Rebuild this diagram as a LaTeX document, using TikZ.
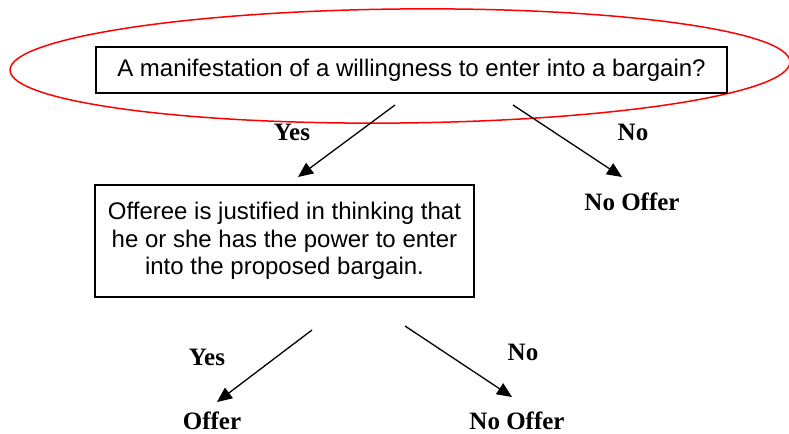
\documentclass[tikz,border=0pt]{standalone}
\usepackage{fontspec}
\setmainfont{Liberation Serif}
\setsansfont{Liberation Sans}
\usetikzlibrary{positioning,calc,arrows.meta,shapes.geometric}

\begin{document}
\begin{tikzpicture}[x=0.5pt,y=-0.5pt,>={Triangle[length=7.5pt,width=6.5pt]},
		question/.style={draw,line width=0.8pt,align=center,inner sep=0pt,
			font=\sffamily\fontsize{12}{13.75}\selectfont},
		answer/.style={inner sep=1pt,font=\bfseries\fontsize{12.5}{15}\selectfont},
	]
		\useasboundingbox (0,0) rectangle (789,434);

		\node[draw=red,line width=0.75pt,ellipse,minimum width=390pt,minimum height=57pt,rotate=0.6] (ring) at (400,66) {};

		\node[question,minimum width=315.5pt,minimum height=23pt] (q1) at (411.5,70)
			{A manifestation of a willingness to enter into a bargain?};
		\node[question,minimum width=189.5pt,minimum height=56pt] (q2) at (284.5,241)
			{Offeree is justified in thinking that\\he or she has the power to enter\\into the proposed bargain.};

		\node[answer] (yes1) at (292,132) {Yes};
		\node[answer] (no1) at (633,132) {No};
		\node[answer] (nooffer1) at (632,202) {No Offer};
		\node[answer] (yes2) at (207,357) {Yes};
		\node[answer] (no2) at (523,352) {No};
		\node[answer] (offer) at (212,421) {Offer};
		\node[answer] (nooffer2) at (517,421) {No Offer};

		\coordinate (y1s) at (395,105);
		\coordinate (y1e) at (298,177);
		\coordinate (n1s) at (513,105);
		\coordinate (n1e) at (622,177);
		\coordinate (y2s) at (312,330);
		\coordinate (y2e) at (217,402);
		\coordinate (n2s) at (405,326);
		\coordinate (n2e) at (512,397);

		\path[->,line width=0.65pt]
			(y1s) edge (y1e)
			(n1s) edge (n1e)
			(y2s) edge (y2e)
			(n2s) edge (n2e)
		;
	\end{tikzpicture}
\end{document}
